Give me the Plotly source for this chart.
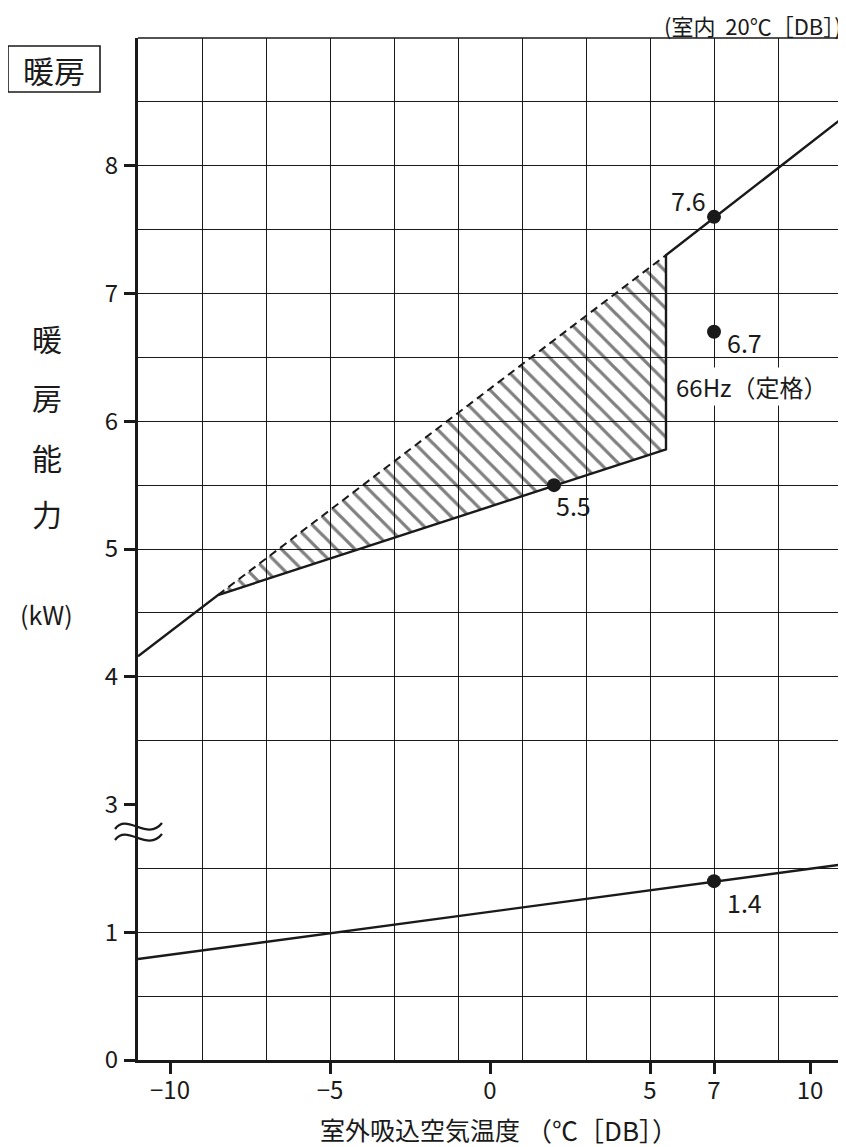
import plotly.graph_objects as go

# ---------------- data (kW vs outdoor temperature °C) ----------------
upper_x = [-11, -8.5, 5.5, 5.5, 11]
upper_y = [4.16, 4.64, 5.78, 7.30, 8.37]
dash_x = [-8.5, 5.5]
dash_y = [4.64, 7.30]
lower_x = [-11, 11]
lower_y = [0.79, 1.53]
pt_x = [7, 7, 2]
pt_y = [7.6, 6.7, 5.5]
pt_labels = ["7.6", "6.7", "5.5"]
low_pt_x = [7]
low_pt_y = [1.4]
low_pt_labels = ["1.4"]
x_tickvals = [-10, -5, 0, 5, 7, 10]
x_ticktext = ["−10", "−5", "0", "5", "7", "10"]
y_low_ticks = [0, 1]
y_up_ticks = [3, 4, 5, 6, 7, 8]

FONT = "Noto Sans CJK JP"
INK = "#1a1a1a"

# page is shown with the default 8px body margin -> compensate
OFF = 8
PAGE_W, PAGE_H = 846, 1147
PLOT_L, PLOT_R, PLOT_T, PLOT_B = 138, 842, 38, 1060   # page pixels of plot area
W = PAGE_W - OFF
H = PAGE_H - OFF
ML = PLOT_L - OFF
MT = PLOT_T - OFF
MR = W - (PLOT_R - OFF)
MB = H - (PLOT_B - OFF)
PW = PLOT_R - PLOT_L
PH = PLOT_B - PLOT_T


def px(x):
    return (x - PLOT_L) / PW


def py(y):
    return (PLOT_B - y) / PH


fig = go.Figure()

# hatched band (between dashed top and solid lower boundary)
hatch_x = dash_x + [upper_x[2], upper_x[1]]
hatch_y = dash_y + [upper_y[2], upper_y[1]]
fig.add_trace(go.Scatter(
    x=hatch_x, y=hatch_y, xaxis="x", yaxis="y2", mode="lines",
    line=dict(width=0, color="rgba(0,0,0,0)"), fill="toself",
    fillcolor="rgba(0,0,0,0)",
    fillpattern=dict(shape="\\", fgcolor="#000000", bgcolor="rgba(0,0,0,0)",
                     size=13, solidity=0.25),
    hoverinfo="skip", showlegend=False))

fig.add_trace(go.Scatter(
    x=dash_x, y=dash_y, xaxis="x", yaxis="y2", mode="lines",
    line=dict(color=INK, width=2, dash="8px,5px"), showlegend=False))

fig.add_trace(go.Scatter(
    x=upper_x, y=upper_y, xaxis="x", yaxis="y2", mode="lines",
    line=dict(color=INK, width=2.4), showlegend=False))

fig.add_trace(go.Scatter(
    x=lower_x, y=lower_y, xaxis="x", yaxis="y", mode="lines",
    line=dict(color=INK, width=2.4), showlegend=False))

fig.add_trace(go.Scatter(
    x=pt_x, y=pt_y, xaxis="x", yaxis="y2", mode="markers",
    marker=dict(color=INK, size=14), showlegend=False))

fig.add_trace(go.Scatter(
    x=low_pt_x, y=low_pt_y, xaxis="x", yaxis="y", mode="markers",
    marker=dict(color=INK, size=14), showlegend=False))

grid_col = INK
axis_common = dict(
    showline=True, linewidth=3.3, linecolor=INK,
    ticks="outside", ticklen=11, tickwidth=3.3, tickcolor=INK,
    tickfont=dict(family=FONT, size=24, color=INK),
    zeroline=False, fixedrange=True,
)

fig.update_layout(
    width=W, height=H,
    margin=dict(l=ML, r=MR, t=MT, b=MB),
    paper_bgcolor="white", plot_bgcolor="white",
    showlegend=False,
    xaxis=dict(
        range=[-11, 11], tickmode="array", tickvals=x_tickvals, ticktext=x_ticktext,
        showgrid=False, anchor="y", ticklabelstandoff=-4,
        minor=dict(tick0=-9, dtick=2, showgrid=True, gridcolor=grid_col, gridwidth=1.3,
                   ticks="inside", ticklen=0, tickcolor="rgba(0,0,0,0)"),
        **axis_common),
    yaxis=dict(
        domain=[0, 0.25], range=[0, 2], tickmode="array", tickvals=y_low_ticks,
        showgrid=True, gridcolor=grid_col, gridwidth=1.3, anchor="x",
        ticklabelstandoff=1,
        minor=dict(tick0=0, dtick=0.5, showgrid=True, gridcolor=grid_col, gridwidth=1.3,
                   ticks="inside", ticklen=0, tickcolor="rgba(0,0,0,0)"),
        **axis_common),
    yaxis2=dict(
        domain=[0.25, 1], range=[3, 9], tickmode="array", tickvals=y_up_ticks,
        showgrid=True, gridcolor=grid_col, gridwidth=1.3, anchor="x",
        ticklabelstandoff=1,
        minor=dict(tick0=3, dtick=0.5, showgrid=True, gridcolor=grid_col, gridwidth=1.3,
                   ticks="inside", ticklen=0, tickcolor="rgba(0,0,0,0)"),
        **axis_common),
)

# frame: top and right borders (thin)
fig.add_shape(type="line", xref="paper", yref="paper", x0=0, x1=1, y0=1, y1=1,
              line=dict(color=INK, width=1.3))
fig.add_shape(type="line", xref="paper", yref="paper", x0=1, x1=1, y0=0, y1=1,
              line=dict(color=INK, width=1.3))

# axis break symbol (two tildes)
for dy in (0, 11):
    pts = [(115, 829 + dy), (127, 812 + dy), (147, 842 + dy), (162, 823 + dy)]
    path = "M {:.5f},{:.5f} C {:.5f},{:.5f} {:.5f},{:.5f} {:.5f},{:.5f}".format(
        px(pts[0][0]), py(pts[0][1]), px(pts[1][0]), py(pts[1][1]),
        px(pts[2][0]), py(pts[2][1]), px(pts[3][0]), py(pts[3][1]))
    fig.add_shape(type="path", xref="paper", yref="paper", path=path,
                  line=dict(color=INK, width=2.2))

# "暖房" boxed label
fig.add_shape(type="rect", xref="paper", yref="paper",
              x0=px(8), x1=px(100), y0=py(92), y1=py(46),
              line=dict(color=INK, width=1.6), fillcolor="white")


def ann(text, x, y, size, xanchor="center", yanchor="middle", **kw):
    fig.add_annotation(text=text, xref="paper", yref="paper", x=px(x), y=py(y),
                       xanchor=xanchor, yanchor=yanchor, showarrow=False,
                       font=dict(family=FONT, size=size, color=INK), **kw)


ann("暖房", 54, 69, 31)
for ch, yy in zip(["暖", "房", "能", "力"], [338, 397, 457, 513]):
    ann(ch, 47, yy, 30)
ann("(kW)", 46, 614, 25)
ann("(室内  20℃［DB］)", 843, 8, 22, xanchor="right", yanchor="top", borderpad=0)
ann("室外吸込空気温度", 318, 1129, 25, xanchor="left")
ann("（℃［DB］）", 602, 1129, 26)

# point labels
offsets = {"7.6": (-26, 17), "6.7": (30, -10), "5.5": (19, -20)}
for xv, yv, lab in zip(pt_x, pt_y, pt_labels):
    dx, dy = offsets[lab]
    fig.add_annotation(text=lab, x=xv, y=yv, xref="x", yref="y2", showarrow=False,
                       xshift=dx, yshift=dy, font=dict(family=FONT, size=25, color=INK))
for xv, yv, lab in zip(low_pt_x, low_pt_y, low_pt_labels):
    fig.add_annotation(text=lab, x=xv, y=yv, xref="x", yref="y", showarrow=False,
                       xshift=30, yshift=-21, font=dict(family=FONT, size=25, color=INK))

ann("66Hz（定格）", 752, 387, 24, bgcolor="white", borderpad=1)

fig.write_html("out.html")
